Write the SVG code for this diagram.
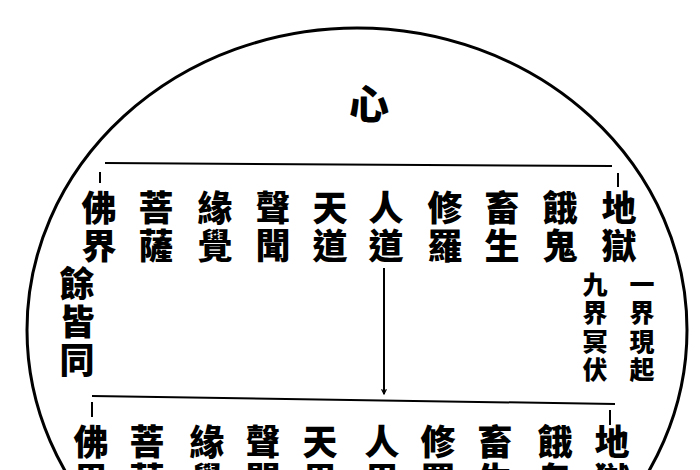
<svg xmlns="http://www.w3.org/2000/svg" width="700" height="470" viewBox="0 0 700 470">
<defs>
<style>
.t{font-family:"Noto Sans CJK TC","Noto Sans CJK SC","Noto Sans CJK JP",sans-serif;font-weight:900;fill:#000;text-anchor:middle;dominant-baseline:central}
.m{font-size:35px}
.s{font-size:25px}
.ln{stroke:#000;stroke-width:2;fill:none}
</style>
<marker id="ah" viewBox="0 0 10 10" refX="9" refY="5" markerWidth="3" markerHeight="3" orient="auto" markerUnits="strokeWidth"><path d="M1,1 L9,5 L1,9" fill="none" stroke="#000" stroke-width="2"/></marker>
</defs>
<rect width="700" height="470" fill="#fff"/>
<g id="frame"><ellipse cx="357" cy="330" rx="330" ry="302" fill="none" stroke="#000" stroke-width="3"/></g>
<g id="xin"><text class="t" x="369" y="102" style="font-size:40px">心</text></g>
<g id="connectors">
<path class="ln" d="M105,163 L612,166"/>
<path class="ln" d="M100,172 L100,183"/>
<path class="ln" d="M618,173 L618,187"/>
<path class="ln" d="M384,268 L384,394" marker-end="url(#ah)"/>
<path class="ln" d="M92,396 L615,404"/>
<path class="ln" d="M92,402 L92,417"/>
<path class="ln" d="M610,410 L610,425"/>
</g>
<g id="top-row">
<g id="t1"><text class="t m" x="99" y="205">佛</text><text class="t m" x="99" y="243">界</text></g>
<g id="t2"><text class="t m" x="156" y="205">菩</text><text class="t m" x="156" y="243">薩</text></g>
<g id="t3"><text class="t m" x="215" y="205">緣</text><text class="t m" x="215" y="243">覺</text></g>
<g id="t4"><text class="t m" x="273" y="205">聲</text><text class="t m" x="273" y="243">聞</text></g>
<g id="t5"><text class="t m" x="330" y="205">天</text><text class="t m" x="330" y="243">道</text></g>
<g id="t6"><text class="t m" x="386" y="205">人</text><text class="t m" x="386" y="243">道</text></g>
<g id="t7"><text class="t m" x="445" y="205">修</text><text class="t m" x="445" y="243">羅</text></g>
<g id="t8"><text class="t m" x="502" y="205">畜</text><text class="t m" x="502" y="243">生</text></g>
<g id="t9"><text class="t m" x="560" y="205">餓</text><text class="t m" x="560" y="243">鬼</text></g>
<g id="t10"><text class="t m" x="619" y="205">地</text><text class="t m" x="619" y="243">獄</text></g>
</g>
<g id="yu-jie-tong"><text class="t m" x="77" y="281">餘</text><text class="t m" x="77" y="319">皆</text><text class="t m" x="77" y="357">同</text></g>
<g id="jiu-jie"><text class="t s" x="595" y="283">九</text><text class="t s" x="595" y="311">界</text><text class="t s" x="595" y="340">冥</text><text class="t s" x="595" y="368">伏</text></g>
<g id="yi-jie"><text class="t s" x="642" y="283">一</text><text class="t s" x="642" y="311">界</text><text class="t s" x="642" y="340">現</text><text class="t s" x="642" y="368">起</text></g>
<g id="bottom-row">
<g id="b1"><text class="t m" x="91" y="439">佛</text><text class="t m" x="91" y="477">界</text></g>
<g id="b2"><text class="t m" x="147" y="439">菩</text><text class="t m" x="147" y="477">薩</text></g>
<g id="b3"><text class="t m" x="207" y="439">緣</text><text class="t m" x="207" y="477">覺</text></g>
<g id="b4"><text class="t m" x="263" y="439">聲</text><text class="t m" x="263" y="477">聞</text></g>
<g id="b5"><text class="t m" x="320" y="439">天</text><text class="t m" x="320" y="477">界</text></g>
<g id="b6"><text class="t m" x="382" y="439">人</text><text class="t m" x="382" y="477">界</text></g>
<g id="b7"><text class="t m" x="438" y="439">修</text><text class="t m" x="438" y="477">羅</text></g>
<g id="b8"><text class="t m" x="495" y="439">畜</text><text class="t m" x="495" y="477">生</text></g>
<g id="b9"><text class="t m" x="555" y="439">餓</text><text class="t m" x="555" y="477">鬼</text></g>
<g id="b10"><text class="t m" x="612" y="439">地</text><text class="t m" x="612" y="477">獄</text></g>
</g>
</svg>
